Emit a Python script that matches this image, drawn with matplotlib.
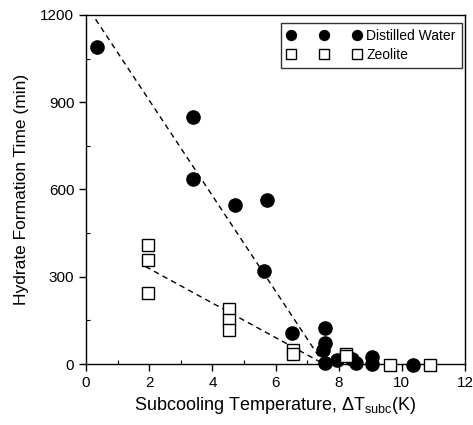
import matplotlib
matplotlib.use("Agg")
from matplotlib import pyplot as plt
from matplotlib.ticker import MultipleLocator

plt.rcParams['font.family'] = ['Liberation Sans', 'DejaVu Sans']
plt.rcParams['mathtext.fontset'] = 'custom'
plt.rcParams['mathtext.rm'] = 'Liberation Sans'
plt.rcParams['mathtext.it'] = 'Liberation Sans'

# distilled water points (subcooling K, time min)
water_x = [0.35, 3.39, 3.39, 4.72, 5.72, 5.63, 6.53, 7.56, 7.56, 7.5, 7.56,
           7.95, 8.42, 8.56, 9.07, 9.07, 10.37]
water_y = [1090, 850, 636, 546, 562, 321, 105, 123, 71, 48, 2,
           14, 16, 2, 25, 0, -3]

# zeolite points
zeo_x = [1.95, 1.95, 1.95, 4.54, 4.54, 4.54, 6.56, 6.56, 8.23, 8.23, 9.62, 10.89]
zeo_y = [409, 358, 245, 188, 151, 117, 48, 33, 35, 27, -2, -2]

# fitted trend lines
water_fit_x = [0.3, 7.5]
water_fit_y = [1185, 5]
zeo_fit_x = [1.88, 7.45]
zeo_fit_y = [335, 5]

fig = plt.figure(figsize=(4.73, 4.25), dpi=100)
ax = fig.add_axes([0.182, 0.1435, 0.801, 0.8215])

ax.plot(water_fit_x, water_fit_y, color='black', lw=1.0, ls=(0, (4, 3)))
ax.plot(zeo_fit_x, zeo_fit_y, color='black', lw=1.0, ls=(0, (4, 3)))

ax.plot(water_x, water_y, 'o', color='black', ms=9.5, ls='none',
        clip_on=False, label='Distilled Water', zorder=3)
ax.plot(zeo_x, zeo_y, 's', mfc='white', mec='black', mew=1.0, ms=9,
        ls='none', clip_on=False, label='Zeolite', zorder=3)

ax.set_xlim(0, 12)
ax.set_ylim(0, 1200)
ax.xaxis.set_major_locator(MultipleLocator(2))
ax.xaxis.set_minor_locator(MultipleLocator(1))
ax.yaxis.set_major_locator(MultipleLocator(300))
ax.yaxis.set_minor_locator(MultipleLocator(150))
ax.tick_params(which='major', direction='out', length=5, width=1, labelsize=11)
ax.tick_params(which='minor', direction='in', length=3, width=0.8)
for s in ax.spines.values():
    s.set_linewidth(1.0)

ax.set_xlabel(r'Subcooling Temperature, $\Delta$T$_{\mathrm{subc}}$(K)', fontsize=13)
ax.set_ylabel('Hydrate Formation Time (min)', fontsize=12.5, labelpad=8)

leg = ax.legend(loc='upper right', bbox_to_anchor=(0.992, 0.977),
                numpoints=3, markerscale=0.75, fontsize=10, frameon=True,
                fancybox=False, edgecolor='black', handlelength=5.3,
                borderaxespad=0, handletextpad=0.4, borderpad=0.45,
                labelspacing=0.35)
leg.get_frame().set_linewidth(1.0)

fig.savefig('out.png', dpi=100)
